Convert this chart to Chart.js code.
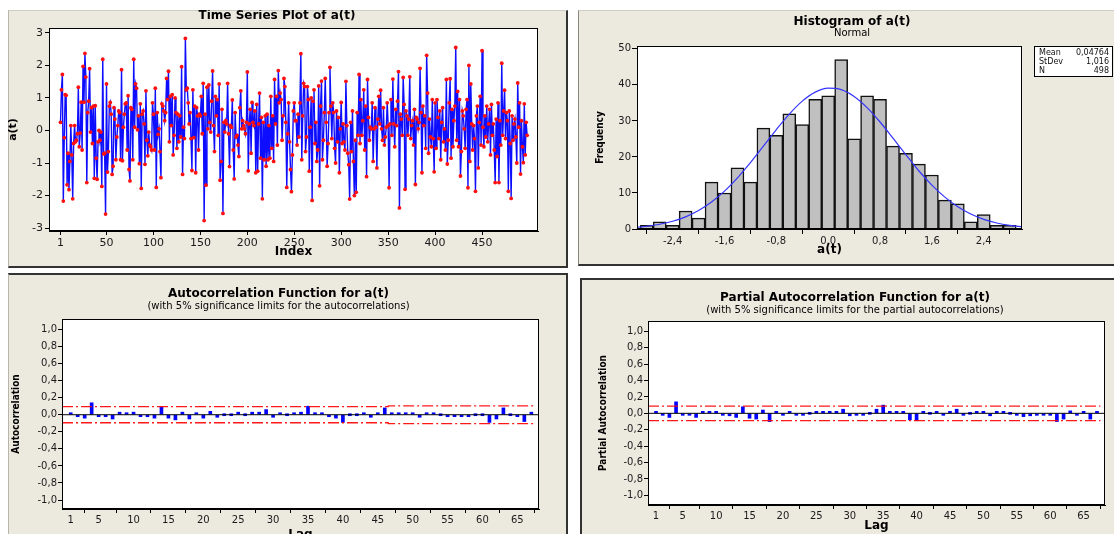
<!DOCTYPE html>
<html><head><meta charset="utf-8">
<script src="https://cdn.jsdelivr.net/npm/chart.js@4.4.1/dist/chart.umd.min.js"></script>
<style>
html,body{margin:0;padding:0;background:#fff;width:1114px;height:534px;overflow:hidden;position:relative}
.panel{position:absolute;background:#ece9df;box-sizing:border-box}
canvas{position:absolute}
</style></head><body>
<div class="panel" style="left:8px;top:10px;width:560px;height:258px;border-left:1px solid #b8b5ad;border-top:1px solid #cfccc4;border-right:2px solid #333;border-bottom:2px solid #333"></div>
<div class="panel" style="left:578px;top:10px;width:540px;height:256px;border-left:1px solid #8a8780;border-top:1px solid #cfccc4;border-bottom:2px solid #333"></div>
<div class="panel" style="left:8px;top:273px;width:560px;height:270px;border-left:1px solid #b8b5ad;border-top:2px solid #333;border-right:2px solid #333"></div>
<div class="panel" style="left:580px;top:278px;width:540px;height:260px;border-left:2px solid #333;border-top:2px solid #333"></div>
<canvas id="cA" width="538" height="258" style="left:8px;top:10px;width:538px;height:258px"></canvas>
<canvas id="cB" width="548" height="255" style="left:578px;top:10px;width:548px;height:255px"></canvas>
<canvas id="cC" width="541" height="275" style="left:8px;top:275px;width:541px;height:275px"></canvas>
<canvas id="cD" width="548" height="275" style="left:581px;top:280px;width:548px;height:275px"></canvas>
<script>
// ---------- DATA ----------
const tsValues = [
0.25,1.25,1.72,-2.17,-0.22,1.1,1.08,-1.67,-0.7,-1.82,
-0.95,0.15,-0.75,-2.1,-0.4,0.15,-0.35,-0.3,-0.1,1.33,
-0.5,-0.08,0.87,-0.6,1.97,0.87,2.37,1.64,-1.6,0.55,
0.9,1.9,-0.05,0.7,-0.4,0.75,-1.47,0.76,-0.85,-1.5,
-0.35,0.0,-0.3,-0.05,-1.72,2.19,-0.72,-0.7,-2.57,1.43,
-1.28,-0.65,0.75,0.86,0.5,-1.35,-1.1,0.7,0.35,-0.9,
-0.2,0.15,0.6,0.55,-0.9,1.87,-0.93,0.1,0.5,0.82,
0.85,-0.6,1.07,-1.2,-1.55,0.7,0.65,-0.9,2.19,0.1,
1.43,1.3,0.02,0.45,-1.02,0.82,-1.78,0.5,0.6,0.2,
-1.04,1.22,-0.3,-0.78,-0.05,-0.45,-0.5,-0.6,0.85,0.5,
-0.6,1.3,-1.75,0.55,-0.12,0.05,-0.65,-1.45,0.82,0.75,
0.6,0.3,0.55,1.6,0.95,1.82,-0.35,1.05,0.15,1.1,
-0.75,-0.15,1.0,0.55,-0.55,0.5,-0.35,0.45,-0.2,1.96,
-1.35,0.1,-0.25,2.83,1.25,1.3,0.85,0.2,0.55,-0.25,
-1.23,1.25,-0.22,0.75,-1.3,0.7,0.45,-0.6,0.5,0.45,
1.05,-0.1,1.45,-2.77,0.5,-1.68,1.33,0.05,1.4,0.25,
-0.05,0.9,1.83,0.15,-0.65,1.05,0.45,0.95,-0.15,1.43,
-1.53,-0.95,0.65,-2.55,0.25,-0.05,0.3,0.2,1.45,-0.1,
-1.11,0.15,0.1,0.94,-0.6,-1.49,0.55,-0.2,-0.15,-0.45,
-0.8,0.7,1.22,0.05,0.3,0.15,0.05,-0.1,0.25,1.8,
-1.24,0.2,0.65,-0.7,0.86,0.25,0.15,0.6,-1.3,0.8,
-1.25,0.2,1.15,-0.85,0.4,-2.1,0.25,-0.9,0.45,-1.1,
0.5,-0.9,0.15,-0.85,1.05,-0.55,0.45,-0.95,1.57,0.2,
1.05,-0.45,1.84,0.85,1.15,0.95,-0.3,0.45,1.6,1.35,
0.25,-1.75,-0.1,0.85,-0.35,-1.2,-1.88,-0.75,0.6,0.85,
0.3,0.3,-0.45,0.5,-0.2,0.85,2.36,-0.9,0.45,1.45,
1.35,-0.65,-0.2,1.35,0.95,-1.25,0.1,1.0,-2.15,0.9,
1.25,-0.4,0.25,-0.95,-0.6,1.37,-1.7,0.75,1.52,-0.9,
-0.3,0.55,1.6,0.25,-1.1,-0.4,0.55,1.94,0.75,-0.25,
0.85,0.55,-0.55,-1.0,0.6,-0.35,0.4,-1.3,0.05,0.86,
-0.4,0.2,-0.35,-0.6,1.51,0.15,-0.7,-1.05,-2.11,0.25,
-0.65,0.6,-0.95,-2.0,-0.3,-1.9,0.55,-0.15,1.72,-0.4,
0.95,-0.15,0.3,1.25,-0.6,0.75,-1.42,1.57,0.4,-0.3,
0.1,0.05,0.85,-0.95,0.05,0.7,0.1,-1.15,0.35,1.05,
0.2,1.24,0.05,-0.3,0.7,-0.45,-0.2,0.1,0.85,0.15,
-1.76,0.2,0.95,-0.15,1.58,0.2,-0.5,0.65,0.15,0.9,
1.81,-2.38,0.5,0.35,-0.15,1.63,0.8,-1.81,0.6,0.45,
-0.15,0.35,1.65,-0.25,0.15,0.3,-0.45,0.65,-1.66,0.4,
0.35,0.05,0.25,1.91,0.55,-1.3,0.75,0.15,0.45,-0.55,
2.31,1.15,-0.7,0.35,-0.2,-0.5,0.95,-0.25,-1.27,0.85,
-0.55,0.95,0.4,-0.25,0.6,-0.9,0.25,0.7,-0.35,0.05,
-0.6,1.57,-1.03,-0.3,0.85,1.59,-0.85,0.65,-0.5,0.3,
0.75,2.55,-0.3,1.2,-0.5,0.95,-1.4,-0.65,0.6,0.45,
0.05,-0.55,0.65,0.95,-1.76,2.0,-0.95,1.43,0.2,-0.6,
0.15,-0.25,-1.87,0.45,0.75,-1.15,0.25,1.05,-0.45,2.45,
0.1,-0.5,0.45,-0.2,0.75,-0.35,0.2,0.65,-0.75,0.8,
-0.15,0.2,-0.6,-1.6,0.35,-0.8,0.85,-1.6,0.3,-0.45,
2.07,-0.15,0.6,1.24,-0.25,0.55,0.3,-1.87,0.6,-0.4,
-2.09,0.45,-0.3,0.2,0.35,-0.2,-1.0,1.46,0.1,0.85,
-1.34,0.3,-0.5,-0.99,0.82,-0.75,0.25,-0.15
];
const tsXTicks = [1,50,100,150,200,250,300,350,400,450];
const tsYTicks = [-3,-2,-1,0,1,2,3];

const histBinCenters = [-2.8,-2.6,-2.4,-2.2,-2.0,-1.8,-1.6,-1.4,-1.2,-1.0,-0.8,-0.6,-0.4,-0.2,0.0,0.2,0.4,0.6,0.8,1.0,1.2,1.4,1.6,1.8,2.0,2.2,2.4,2.6,2.8];
const histCounts     = [1,2,1,5,3,13,10,17,13,28,26,32,29,36,37,47,25,37,36,23,21,18,15,8,7,2,4,1,1];
const curveX = [-3.0,-2.8,-2.6,-2.4,-2.2,-2.0,-1.8,-1.6,-1.4,-1.2,-1.0,-0.8,-0.6,-0.4,-0.2,0.0,0.2,0.4,0.6,0.8,1.0,1.2,1.4,1.6,1.8,2.0,2.2,2.4,2.6,2.8,3.0];
const curveY = [0.43,0.77,1.31,2.15,3.38,5.13,7.48,10.5,14.2,18.4,23.0,27.6,31.9,35.5,38.0,39.1,38.7,36.8,33.7,29.7,25.2,20.6,16.1,12.2,8.85,6.18,4.15,2.68,1.67,1.0,0.57];
const histXTicks = [-2.4,-1.6,-0.8,0.0,0.8,1.6,2.4];
const histYTicks = [0,10,20,30,40,50];
const statLabels = ['Mean','StDev','N'];
const statValues = ['0,04764','1,016','498'];

const acfValues = [
0.02,-0.02,-0.04,0.14,-0.01,-0.02,-0.05,0.03,0.02,0.03,
-0.02,-0.02,-0.04,0.09,-0.04,-0.06,0.03,-0.05,0.02,-0.04,
0.04,-0.03,0.0,0.0,0.03,0.0,0.03,0.03,0.06,-0.03,
0.02,0.0,0.02,0.03,0.1,0.01,0.01,-0.02,-0.04,-0.09,
0.0,0.0,0.01,-0.03,0.02,0.08,0.01,0.01,0.01,0.01,
-0.03,0.01,0.01,0.0,-0.01,-0.01,-0.01,-0.01,0.0,0.0,
-0.09,-0.05,0.08,0.0,-0.01,-0.08,0.03];
const acfLimits = [
0.094,0.094,0.094,0.094,0.094,0.094,0.094,0.094,0.094,0.094,
0.094,0.094,0.094,0.094,0.094,0.094,0.094,0.094,0.094,0.094,
0.094,0.094,0.094,0.094,0.094,0.094,0.094,0.094,0.094,0.094,
0.094,0.094,0.094,0.094,0.094,0.094,0.094,0.094,0.094,0.094,
0.094,0.094,0.094,0.094,0.094,0.094,0.104,0.104,0.104,0.104,
0.104,0.104,0.104,0.104,0.104,0.104,0.104,0.104,0.104,0.104,
0.104,0.104,0.104,0.104,0.104,0.104,0.104];
const pacfValues = [
0.01,-0.02,-0.05,0.14,-0.02,-0.02,-0.05,0.01,0.01,0.02,
-0.01,-0.03,-0.05,0.08,-0.06,-0.07,0.04,-0.1,0.02,-0.02,
0.02,-0.02,-0.02,0.0,0.01,0.01,0.01,0.02,0.05,-0.03,
-0.01,-0.01,0.0,0.05,0.1,0.01,0.01,0.01,-0.08,-0.09,
0.01,0.0,0.01,-0.02,0.02,0.05,-0.02,0.0,0.01,0.01,
-0.03,0.02,0.02,0.0,-0.02,-0.04,-0.03,-0.02,-0.02,-0.02,
-0.1,-0.07,0.03,-0.02,0.02,-0.07,0.01];
const pacfLimit = 0.088;
const lagTicks = [1,5,10,15,20,25,30,35,40,45,50,55,60,65];
const corrTicks = [-1.0,-0.8,-0.6,-0.4,-0.2,0.0,0.2,0.4,0.6,0.8,1.0];

// ---------- HELPERS ----------
const FONT = "'DejaVu Sans', Verdana, sans-serif";
const NARROW = "'Liberation Sans Narrow', 'DejaVu Sans Condensed', 'DejaVu Sans', sans-serif";
Chart.defaults.font.family = FONT;
const comma = v => Number(v).toFixed(1).replace('.', ',');
const fixedTicks = arr => s => { s.ticks = arr.map(v => ({value: v})); };
const fitW = w => s => { s.width = w; };
const fitH = h => s => { s.height = h; };
const TICKC = '#1a1a1a';

const plotFrame = {
  id: 'plotFrame',
  beforeDraw(c) { const a = c.chartArea, x = c.ctx; x.save(); x.fillStyle = '#fff'; x.fillRect(a.left, a.top, a.width, a.height); x.restore(); },
  afterDraw(c) { const a = c.chartArea, x = c.ctx; x.save(); x.strokeStyle = '#000'; x.lineWidth = 1;
    x.strokeRect(Math.round(a.left) + 0.5, Math.round(a.top) + 0.5, Math.round(a.width) - 1, Math.round(a.height) - 1); x.restore(); }
};
const statsBox = {
  id: 'statsBox',
  afterDraw(c) {
    if (c.canvas.id !== 'cB') return;
    const x = c.ctx, L = Math.round(c.chartArea.right) + 12, T = Math.round(c.chartArea.top), W = 79, H = 31;
    x.save(); x.fillStyle = '#fff'; x.fillRect(L, T, W, H);
    x.strokeStyle = '#000'; x.lineWidth = 1; x.strokeRect(L + 0.5, T + 0.5, W - 1, H - 1);
    x.fillStyle = '#111'; x.font = "8px " + FONT; x.textBaseline = 'middle';
    statLabels.forEach((s, i) => { x.textAlign = 'left'; x.fillText(s, L + 5, T + 7 + 9 * i); x.textAlign = 'right'; x.fillText(statValues[i], L + W - 4, T + 7 + 9 * i); });
    x.restore();
  }
};
function axisStyle(tickLen) {
  return {
    grid: {display: true, drawOnChartArea: false, drawTicks: true, tickLength: tickLen, color: '#000', lineWidth: 1},
    border: {display: true, color: '#000', width: 1}
  };
}
function dummyRight(w) {
  return {type: 'linear', position: 'right', display: true, grid: {display: false}, border: {display: false}, ticks: {display: false}, afterFit: fitW(w)};
}
const base = {responsive: false, animation: false, devicePixelRatio: 1, events: [], layout: {padding: 0}};

// ---------- A: Time series ----------
const tsXMin = -11.25, tsXMax = 509.6;
new Chart(document.getElementById('cA'), {
  type: 'line',
  data: {datasets: [{
    data: tsValues.map((v, i) => ({x: i + 1, y: v})),
    borderColor: 'rgba(0,0,255,0.95)', borderWidth: 1.4, tension: 0,
    pointRadius: 1.9, pointBackgroundColor: '#ff1010', pointBorderWidth: 0
  }]},
  options: Object.assign({}, base, {
    plugins: {legend: {display: false}, tooltip: {enabled: false},
      title: {display: true, text: 'Time Series Plot of a(t)', color: '#000', font: {family: FONT, size: 12, weight: 'bold', lineHeight: 1}, padding: {top: 0, bottom: 6}}},
    scales: {
      x: Object.assign({type: 'linear', min: tsXMin, max: tsXMax, afterBuildTicks: fixedTicks(tsXTicks), afterFit: fitH(37),
        ticks: {padding: 2, color: TICKC, font: {family: FONT, size: 11}, maxRotation: 0, autoSkip: false, callback: v => String(v)},
        title: {display: true, text: 'Index', color: '#000', font: {family: FONT, size: 12, weight: 'bold', lineHeight: 1}, padding: {top: 0, bottom: 10.5}}}, axisStyle(4)),
      y: Object.assign({type: 'linear', min: -3.09, max: 3.15, afterBuildTicks: fixedTicks(tsYTicks), afterFit: fitW(41),
        ticks: {padding: 2, color: TICKC, font: {family: FONT, size: 11}, autoSkip: false, callback: v => String(v)},
        title: {display: true, text: 'a(t)', color: '#000', font: {family: FONT, size: 11, weight: 'bold', lineHeight: 1}, padding: {top: 0, bottom: 0}}}, axisStyle(4)),
      yr: dummyRight(8)
    }
  }),
  plugins: [plotFrame]
});

// ---------- B: Histogram ----------
new Chart(document.getElementById('cB'), {
  type: 'bar',
  data: {datasets: [
    {type: 'line', order: 0, data: curveX.map((v, i) => ({x: v, y: curveY[i]})), borderColor: '#3434ff', borderWidth: 1.2, pointRadius: 0, tension: 0.4, cubicInterpolationMode: 'monotone'},
    {type: 'bar', order: 1, data: histBinCenters.map((v, i) => ({x: v, y: histCounts[i]})), backgroundColor: '#c0c0c0', borderColor: '#111', borderWidth: 1.5, barPercentage: 1, categoryPercentage: 1}
  ]},
  options: Object.assign({}, base, {
    plugins: {legend: {display: false}, tooltip: {enabled: false},
      title: {display: true, text: 'Histogram of a(t)', color: '#000', font: {family: FONT, size: 12, weight: 'bold', lineHeight: 1}, padding: {top: 6, bottom: 0}},
      subtitle: {display: true, text: 'Normal', color: '#000', font: {family: FONT, size: 10, lineHeight: 1}, padding: {top: 0, bottom: 8}}},
    scales: {
      x: Object.assign({type: 'linear', offset: false, min: -2.95, max: 2.99, afterBuildTicks: fixedTicks(histXTicks), afterFit: fitH(36),
        ticks: {padding: 1, color: TICKC, font: {family: FONT, size: 10}, maxRotation: 0, autoSkip: false, callback: v => comma(v)},
        title: {display: true, text: 'a(t)', color: '#000', font: {family: FONT, size: 12, weight: 'bold', lineHeight: 1}, padding: {top: 0, bottom: 9}}}, axisStyle(5)),
      y: Object.assign({type: 'linear', min: 0, max: 50.8, afterBuildTicks: fixedTicks(histYTicks), afterFit: fitW(59),
        ticks: {padding: 1, color: TICKC, font: {family: FONT, size: 10}, autoSkip: false, callback: v => String(v)},
        title: {display: true, text: 'Frequency', color: '#000', font: {family: NARROW, size: 10, weight: 'bold', lineHeight: 1}, padding: {top: 17, bottom: 0}}}, axisStyle(5)),
      yr: dummyRight(104)
    }
  }),
  plugins: [plotFrame, statsBox]
});

// ---------- C / D: ACF and PACF ----------
function limitPoints(limits, sign, xMin) {
  const pts = [{x: xMin, y: sign * limits[0]}];
  limits.forEach((v, i) => { pts.push({x: i + 0.5, y: sign * v}); pts.push({x: i + 1.5, y: sign * v}); });
  return pts;
}
function corrChart(id, values, limits, cfg) {
  const limStyle = {type: 'line', borderColor: 'rgba(255,0,0,0.9)', borderWidth: 1.3, borderDash: [11, 3, 2, 3], pointRadius: 0, tension: 0};
  new Chart(document.getElementById(id), {
    type: 'bar',
    data: {datasets: [
      Object.assign({data: limitPoints(limits, 1, cfg.xMin), order: 0}, limStyle),
      Object.assign({data: limitPoints(limits, -1, cfg.xMin), order: 0}, limStyle),
      {type: 'line', order: 1, data: [{x: cfg.xMin, y: 0}, {x: cfg.xMax, y: 0}], borderColor: '#000', borderWidth: 1, pointRadius: 0},
      {type: 'bar', order: 2, data: values.map((v, i) => ({x: i + 1, y: v})), backgroundColor: '#0000ff', barThickness: 3, minBarLength: 2}
    ]},
    options: Object.assign({}, base, {
      plugins: {legend: {display: false}, tooltip: {enabled: false},
        title: {display: true, text: cfg.title, color: '#000', font: {family: FONT, size: 12, weight: 'bold', lineHeight: 1}, padding: {top: cfg.tTop, bottom: 0}},
        subtitle: {display: true, text: cfg.sub, color: '#000', font: {family: FONT, size: 10, lineHeight: 1}, padding: {top: cfg.sTop, bottom: cfg.sBot}}},
      scales: {
        x: Object.assign({type: 'linear', offset: false, min: cfg.xMin, max: cfg.xMax, afterBuildTicks: fixedTicks(lagTicks), afterFit: fitH(cfg.xH),
          ticks: {padding: 1, color: TICKC, font: {family: FONT, size: 10}, maxRotation: 0, autoSkip: false, callback: v => String(v)},
          title: {display: true, text: 'Lag', color: '#000', font: {family: FONT, size: 12, weight: 'bold', lineHeight: 1}, padding: {top: 0, bottom: cfg.lagPad}}}, axisStyle(4)),
        y: Object.assign({type: 'linear', min: cfg.yMin, max: cfg.yMax, afterBuildTicks: fixedTicks(corrTicks), afterFit: fitW(cfg.yW),
          ticks: {padding: 1, color: TICKC, font: {family: FONT, size: 10}, autoSkip: false, callback: v => comma(v)},
          title: {display: true, text: cfg.yTitle, color: '#000', font: {family: NARROW, size: 10, weight: 'bold', lineHeight: 1}, padding: {top: cfg.yTitlePad, bottom: 0}}}, axisStyle(4)),
        yr: dummyRight(cfg.rW)
      }
    }),
    plugins: [plotFrame]
  });
}
corrChart('cC', acfValues, acfLimits, {
  title: 'Autocorrelation Function for a(t)', sub: '(with 5% significance limits for the autocorrelations)',
  tTop: 13.3, sTop: 0.7, sBot: 8, xMin: -0.25, xMax: 68.1, xH: 41, lagPad: 9,
  yMin: -1.105, yMax: 1.122, yW: 54, yTitle: 'Autocorrelation', yTitlePad: 3.7, rW: 10
});
corrChart('cD', pacfValues, pacfValues.map(() => pacfLimit), {
  title: 'Partial Autocorrelation Function for a(t)', sub: '(with 5% significance limits for the partial autocorrelations)',
  tTop: 12.3, sTop: 1.4, sBot: 5.3, xMin: -0.2, xMax: 68.2, xH: 50, lagPad: 23,
  yMin: -1.118, yMax: 1.126, yW: 67, yTitle: 'Partial Autocorrelation', yTitlePad: 17.3, rW: 24
});
</script>
</body></html>
